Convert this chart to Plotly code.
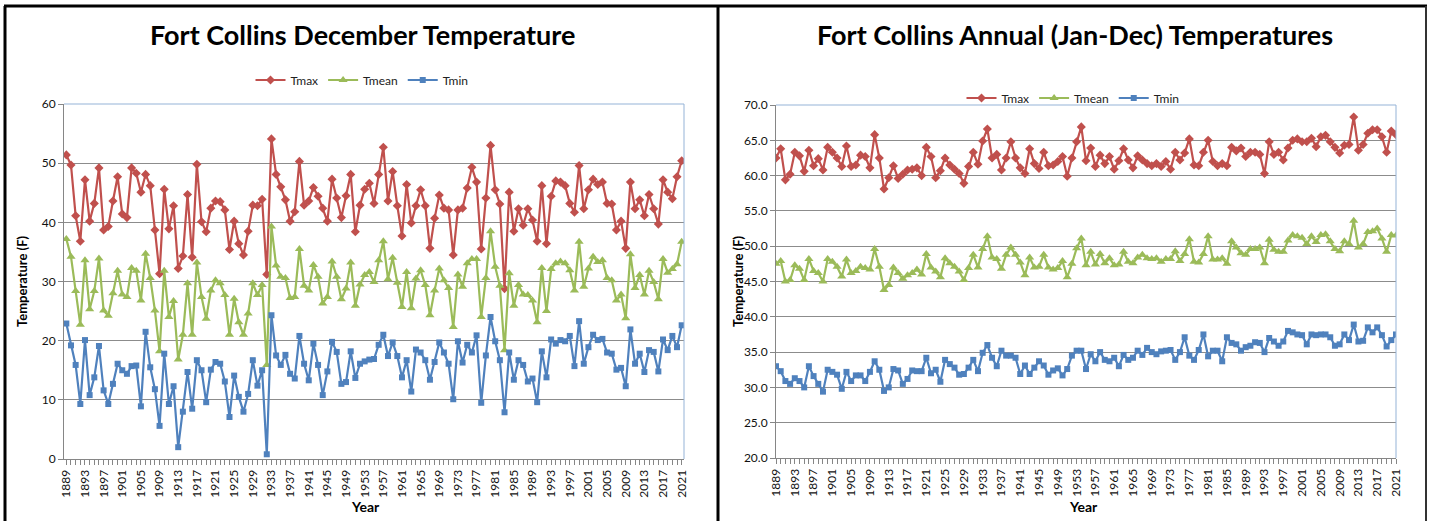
import plotly.graph_objects as go

years = list(range(1889, 2022))

dec_tmax = [51.4, 49.7, 41.1, 36.8, 47.2, 40.2, 43.2, 49.2, 38.7, 39.3, 43.6, 47.7, 41.4, 40.8, 49.2, 48.3, 45.1, 48.1, 46.2, 38.7, 31.3, 45.6, 38.9, 42.8, 32.2, 34.3, 44.7, 34.1, 49.8, 40.1, 38.4, 42.4, 43.6,
            43.5, 42.1, 35.4, 40.2, 36.4, 34.5, 38.5, 42.9, 42.8, 43.9, 31.2, 54.1, 48.1, 46.0, 43.8, 40.2, 41.8, 50.3, 42.9, 43.6, 45.9, 44.4, 42.4, 40.2, 47.3, 44.1, 40.8, 44.5, 48.1, 38.4, 42.9, 45.6,
            46.6, 43.2, 48.1, 52.7, 43.6, 48.6, 42.8, 37.7, 46.4, 39.9, 42.8, 45.5, 42.8, 35.6, 40.7, 44.6, 42.4, 42.1, 34.5, 42.1, 42.4, 45.8, 49.3, 46.8, 35.5, 44.1, 53.0, 45.5, 43.1, 28.8, 45.1, 38.5, 42.3, 39.5, 42.3,
            40.4, 36.8, 46.2, 36.4, 44.4, 47.0, 46.8, 46.2, 43.2, 41.7, 49.6, 42.3, 45.5, 47.3, 46.4, 46.8, 43.2, 43.1, 38.7, 40.2, 35.6, 46.8, 42.3, 43.8, 41.1, 44.7, 42.3, 39.7, 47.2, 45.1, 44.0, 47.7, 50.4]

dec_tmean = [37.2, 34.2, 28.4, 22.7, 33.6, 25.3, 28.4, 33.9, 25.1, 24.2, 28.0, 31.8, 27.8, 27.4, 32.3, 31.8, 26.8, 34.7, 30.6, 25.1, 18.2, 31.8, 24.0, 26.7, 16.8, 21.0, 29.7, 21.0, 33.2, 27.4, 23.7, 28.5, 30.2,
             29.7, 27.7, 21.0, 27.1, 23.1, 21.0, 24.6, 29.7, 27.7, 29.4, 15.9, 39.3, 32.7, 30.8, 30.6, 27.2, 27.4, 35.5, 29.3, 28.5, 32.8, 30.8, 26.3, 27.4, 33.4, 30.8, 27.0, 28.8, 33.2, 25.9, 29.5, 31.1,
             31.6, 29.9, 33.6, 36.8, 30.4, 34.0, 29.8, 25.7, 31.6, 25.5, 30.5, 31.9, 29.4, 24.3, 28.5, 32.2, 30.2, 28.9, 22.3, 31.2, 29.1, 33.1, 33.8, 33.8, 24.0, 30.6, 38.5, 32.5, 29.3, 18.4, 31.4, 25.9, 29.4, 27.8, 27.7,
             26.8, 23.1, 32.3, 25.0, 32.1, 33.1, 33.4, 33.1, 31.9, 28.5, 36.7, 29.1, 32.2, 34.2, 33.3, 33.6, 30.6, 30.2, 26.8, 27.8, 23.8, 34.6, 28.9, 31.1, 27.8, 31.8, 29.9, 27.0, 33.8, 31.5, 32.1, 32.9, 36.7]

dec_tmin = [22.9, 19.2, 15.9, 9.3, 20.1, 10.8, 13.8, 19.1, 11.6, 9.3, 12.7, 16.1, 15.0, 14.4, 15.7, 15.8, 8.9, 21.5, 15.5, 11.8, 5.6, 17.8, 9.3, 12.3, 2.0, 8.0, 14.7, 8.5, 16.7, 15.0, 9.6, 15.1, 16.4,
            16.1, 13.1, 7.1, 14.1, 10.5, 8.0, 11.0, 16.7, 12.4, 15.0, 0.8, 24.3, 17.5, 15.9, 17.6, 14.4, 13.6, 20.8, 16.1, 13.3, 19.5, 15.9, 10.8, 14.8, 19.8, 18.1, 12.7, 13.0, 18.2, 13.7, 16.1, 16.5,
            16.8, 16.9, 19.3, 21.0, 17.4, 19.7, 17.4, 13.8, 16.7, 11.4, 18.5, 18.0, 16.7, 13.4, 16.4, 19.7, 18.0, 16.1, 10.1, 19.9, 16.3, 19.3, 18.0, 20.9, 9.5, 17.5, 24.0, 19.9, 16.7, 7.9, 18.0, 13.4, 16.7, 15.9, 13.1,
            13.6, 9.6, 18.2, 13.8, 20.2, 19.5, 20.1, 19.9, 20.8, 15.7, 23.3, 16.1, 18.9, 21.0, 20.1, 20.3, 18.0, 17.8, 15.1, 15.4, 12.3, 21.9, 16.1, 17.8, 14.7, 18.4, 18.1, 14.8, 20.2, 18.4, 20.8, 18.9, 22.6]

ann_tmax = [62.5, 63.8, 59.4, 60.2, 63.3, 62.8, 60.6, 63.6, 61.4, 62.4, 60.8, 64.0, 63.3, 62.5, 61.3, 64.2, 61.3, 61.5, 62.9, 62.7, 61.1, 65.8, 62.5, 58.1, 59.7, 61.4, 59.6, 60.2, 60.8, 60.9, 61.1, 60.0, 64.0, 62.7,
            59.7, 60.7, 62.5, 61.5, 60.9, 60.3, 58.9, 61.3, 63.3, 61.6, 64.9, 66.6, 62.5, 63.0, 60.8, 62.5, 64.8, 62.5, 61.1, 60.3, 63.8, 61.7, 61.0, 63.3, 61.4, 61.5, 62.0, 62.7, 59.9, 62.5, 64.8, 66.9, 62.1,
            63.9, 61.3, 62.9, 61.7, 62.7, 60.9, 62.1, 63.8, 62.2, 61.1, 62.8, 62.2, 61.7, 61.4, 61.7, 61.3, 62.0, 60.9, 63.3, 62.2, 63.2, 65.2, 61.5, 61.4, 63.3, 65.0, 62.0, 61.4, 61.7, 61.4, 64.0, 63.5, 63.9,
            62.7, 63.3, 63.3, 63.0, 60.3, 64.8, 63.0, 63.3, 62.2, 63.9, 65.0, 65.2, 64.8, 64.8, 65.3, 64.1, 65.5, 65.7, 64.8, 64.0, 63.2, 64.3, 64.4, 68.3, 63.6, 64.4, 66.0, 66.5, 66.5, 65.5, 63.3, 66.3, 65.8]

ann_tmean = [47.5, 47.9, 45.0, 45.2, 47.3, 46.8, 45.2, 48.2, 46.5, 46.2, 45.0, 48.2, 47.8, 47.1, 45.7, 48.1, 46.2, 46.5, 47.1, 46.9, 46.7, 49.6, 47.1, 43.8, 44.5, 47.0, 46.2, 45.4, 45.9, 46.2, 46.7, 46.0, 48.9, 47.0,
             46.4, 45.6, 48.3, 47.6, 47.1, 46.4, 45.2, 46.9, 48.8, 47.0, 49.6, 51.4, 48.4, 48.2, 46.8, 48.8, 49.8, 48.8, 47.7, 45.9, 48.4, 47.0, 47.1, 48.8, 47.0, 46.7, 46.9, 47.9, 45.6, 47.5, 49.7, 51.1, 47.3,
             49.2, 47.4, 48.9, 47.6, 48.3, 47.3, 47.4, 49.2, 47.8, 47.6, 48.4, 48.8, 48.3, 48.2, 48.3, 47.8, 48.2, 48.2, 49.3, 47.9, 48.9, 51.0, 47.8, 47.7, 48.9, 51.4, 48.1, 48.1, 48.3, 47.5, 50.7, 49.8, 49.0,
             48.8, 49.6, 49.6, 49.8, 47.6, 50.9, 49.5, 49.2, 49.2, 50.8, 51.6, 51.4, 51.2, 50.3, 51.4, 50.6, 51.6, 51.7, 50.7, 49.6, 49.3, 50.7, 50.3, 53.6, 49.8, 50.3, 52.0, 52.1, 52.5, 51.1, 49.2, 51.6, 51.5]

ann_tmin = [33.0, 32.3, 30.9, 30.5, 31.3, 30.9, 30.0, 33.0, 31.6, 30.5, 29.4, 32.5, 32.2, 31.8, 29.8, 32.2, 30.9, 31.7, 31.7, 30.9, 32.2, 33.7, 32.5, 29.5, 30.0, 32.6, 32.4, 30.5, 31.2, 32.4, 32.3, 32.3, 34.2, 32.0,
            32.5, 30.8, 33.9, 33.3, 32.8, 31.8, 31.9, 32.8, 33.9, 32.3, 34.9, 36.0, 34.2, 33.0, 35.2, 34.5, 34.5, 34.2, 31.9, 33.1, 31.9, 32.8, 33.7, 33.1, 31.8, 32.4, 32.7, 31.7, 32.6, 34.5, 35.2, 35.2, 32.6,
            34.7, 33.7, 35.0, 33.9, 33.7, 34.2, 33.0, 34.6, 33.9, 34.2, 35.2, 34.6, 35.6, 35.0, 34.7, 35.1, 35.2, 35.3, 33.9, 35.0, 37.1, 34.5, 33.9, 35.3, 37.5, 34.4, 35.2, 35.2, 33.7, 37.1, 36.3, 36.1, 35.2,
            35.7, 35.9, 36.4, 36.3, 35.0, 37.0, 36.5, 35.9, 36.5, 38.0, 37.8, 37.5, 37.4, 36.1, 37.5, 37.4, 37.5, 37.5, 37.1, 35.9, 36.1, 37.5, 36.7, 38.9, 36.5, 36.6, 38.5, 37.8, 38.5, 37.4, 35.8, 36.7, 37.5]

series_names = ["Tmax", "Tmean", "Tmin"]
for arr in (dec_tmax, dec_tmean, dec_tmin, ann_tmax, ann_tmean, ann_tmin):
    assert len(arr) == len(years), len(arr)

W, H = 1431, 521
def px(x):
    return x / W
def py(y):
    return 1 - y / H

FONT = "Lato"
colors = ["#C0504D", "#9BBB59", "#4F81BD"]
symbols = ["diamond", "triangle-up", "square"]
msizes = [7, 8, 6]

fig = go.Figure()
for k, (name, vals) in enumerate(zip(series_names, (dec_tmax, dec_tmean, dec_tmin))):
    fig.add_trace(go.Scatter(x=years, y=vals, name=name, mode="lines+markers",
                             line=dict(color=colors[k], width=2.2),
                             marker=dict(symbol=symbols[k], size=msizes[k], color=colors[k]),
                             xaxis="x", yaxis="y", legend="legend"))
for k, (name, vals) in enumerate(zip(series_names, (ann_tmax, ann_tmean, ann_tmin))):
    fig.add_trace(go.Scatter(x=years, y=vals, name=name, mode="lines+markers",
                             line=dict(color=colors[k], width=2.2),
                             marker=dict(symbol=symbols[k], size=msizes[k], color=colors[k]),
                             xaxis="x2", yaxis="y2", legend="legend2"))

axis_gray = "#868686"
xcommon = dict(tickmode="linear", tick0=1889, dtick=4, tickangle=-90,
               ticks="outside", ticklen=5, tickcolor=axis_gray,
               showline=True, linecolor=axis_gray, linewidth=1,
               showgrid=False, zeroline=False, automargin=False,
               tickfont=dict(family=FONT, size=12, color="#111"),
               minor=dict(ticks="outside", dtick=1, ticklen=5, tickcolor=axis_gray, showgrid=False))
ycommon = dict(ticks="outside", ticklen=5, tickcolor=axis_gray,
               showline=True, linecolor=axis_gray, linewidth=1, automargin=False,
               showgrid=True, gridcolor="#8c8c8c", gridwidth=1, zeroline=False,
               tickfont=dict(family=FONT, size=12, color="#111"))

fig.update_layout(
    width=W, height=H, autosize=False,
    margin=dict(l=0, r=0, t=0, b=0, pad=0, autoexpand=False),
    paper_bgcolor="white", plot_bgcolor="white",
    font=dict(family=FONT, color="#222"),
    xaxis=dict(domain=[px(64), px(684)], range=[1888.5, 2021.5], anchor="y", **xcommon),
    yaxis=dict(domain=[py(459), py(104)], range=[0, 60], dtick=10, anchor="x", **ycommon),
    xaxis2=dict(domain=[px(776), px(1396)], range=[1889, 2021], anchor="y2", **xcommon),
    yaxis2=dict(domain=[py(458), py(105)], range=[20, 70], dtick=5, tickformat=".1f", anchor="x2", **ycommon),
    legend=dict(orientation="h", x=px(362), y=py(80), xanchor="center", yanchor="middle",
                font=dict(family=FONT, size=12, color="#222"), bgcolor="rgba(0,0,0,0)",
                itemwidth=30, tracegroupgap=0),
    legend2=dict(orientation="h", x=px(1073), y=py(98), xanchor="center", yanchor="middle",
                 font=dict(family=FONT, size=12, color="#222"), bgcolor="rgba(0,0,0,0)",
                 itemwidth=30, tracegroupgap=0),
    showlegend=True,
)

annotations = [
    dict(text="<b>Fort Collins December Temperature</b>", x=px(362), y=py(35), size=27),
    dict(text="<b>Fort Collins Annual (Jan-Dec) Temperatures</b>", x=px(1075), y=py(35), size=27),
    dict(text="<b>Year</b>", x=px(365), y=py(506), size=14),
    dict(text="<b>Year</b>", x=px(1083), y=py(506), size=14),
]
for a in annotations:
    fig.add_annotation(text=a["text"], x=a["x"], y=a["y"], xref="paper", yref="paper",
                       xanchor="center", yanchor="middle", showarrow=False,
                       font=dict(family=FONT, size=a["size"], color="black"))
for xc in (22, 738):
    fig.add_annotation(text="<b>Temperature (F)</b>", x=px(xc), y=py(281), xref="paper", yref="paper",
                       xanchor="center", yanchor="middle", showarrow=False, textangle=-90,
                       font=dict(family=FONT, size=13, color="black"))

shapes = []
for xr, yr in (("x domain", "y domain"), ("x2 domain", "y2 domain")):
    shapes.append(dict(type="line", xref=xr, yref=yr, x0=0, x1=1, y0=1, y1=1,
                       line=dict(color="#95B3D7", width=1)))
    shapes.append(dict(type="line", xref=xr, yref=yr, x0=1, x1=1, y0=0, y1=1,
                       line=dict(color="#95B3D7", width=1)))
frame = dict(color="black", width=3)
shapes.append(dict(type="line", xref="paper", yref="paper", x0=px(4), x1=px(1427), y0=py(6), y1=py(6), line=frame))
shapes.append(dict(type="line", xref="paper", yref="paper", x0=px(5), x1=px(5), y0=py(6), y1=0, line=frame))
shapes.append(dict(type="line", xref="paper", yref="paper", x0=px(718), x1=px(718), y0=py(6), y1=0, line=frame))
shapes.append(dict(type="line", xref="paper", yref="paper", x0=px(1426), x1=px(1426), y0=py(6), y1=0,
                   line=dict(color="#333", width=2)))
fig.update_layout(shapes=shapes)

fig.write_html("out.html", config={"displayModeBar": False},
               post_script="document.body.style.margin='0px';")
